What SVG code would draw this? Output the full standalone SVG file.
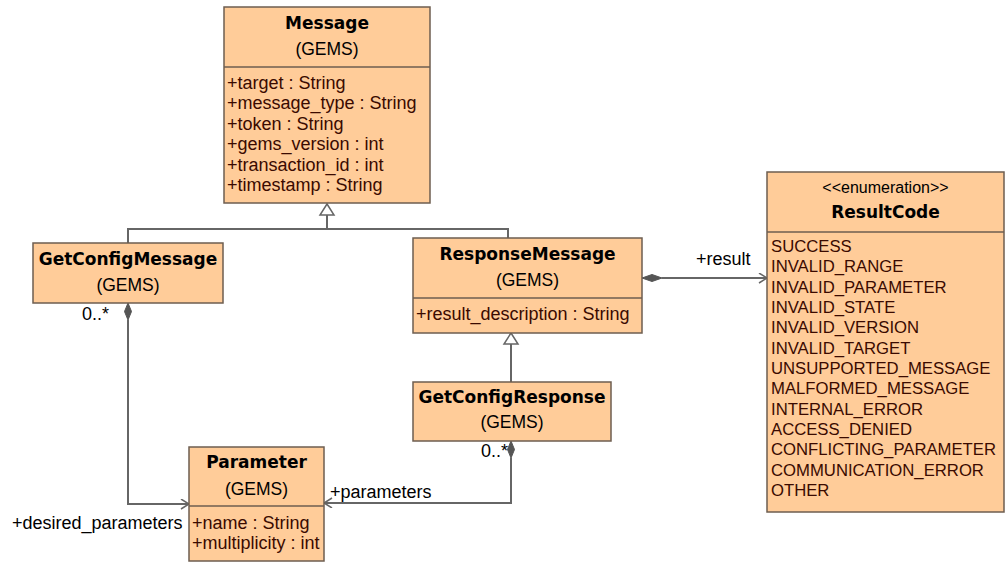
<svg xmlns="http://www.w3.org/2000/svg" width="1005" height="562" viewBox="0 0 1005 562">
<style>
.box{fill:#FFCC99;stroke:#6e5e50;stroke-width:1.5}
.div{stroke:#6e5e50;stroke-width:1.5}
.t{font-family:"DejaVu Sans",Verdana,sans-serif;font-weight:bold;font-size:17px;fill:#000;text-anchor:middle}
.g{font-family:"Liberation Sans",Arial,sans-serif;font-size:17.5px;fill:#000;text-anchor:middle}
.a{font-family:"Liberation Sans",Arial,sans-serif;font-size:18px;fill:#3a0a00}
.e{font-family:"Liberation Sans",Arial,sans-serif;font-size:16.7px;fill:#3a0a00}
.l{font-family:"Liberation Sans",Arial,sans-serif;font-size:18px;fill:#000}
.c{fill:none;stroke:#666;stroke-width:2}
.dia{fill:#555;stroke:#555;stroke-width:1}
.tri{fill:#fff;stroke:#666;stroke-width:1.5}
</style>
<defs>
<marker id="open" markerUnits="userSpaceOnUse" markerWidth="12" markerHeight="12" refX="9" refY="5" orient="auto">
<path d="M1,0 L9,5 L1,10" fill="none" stroke="#666" stroke-width="1.5"/>
</marker>
</defs>
<rect width="1005" height="562" fill="#fff"/>
<g id="connectors">
<path class="c" d="M128,243 V229 H508 V238"/>
<path class="c" d="M327,229 V215"/>
<polygon class="tri" points="327,204 320,215 334,215"/>
<path class="c" d="M511,382 V344"/>
<polygon class="tri" points="511,333 504,344 518,344"/>
<path class="c" d="M128,320 V504 H189" marker-end="url(#open)"/>
<polygon class="dia" points="128,303 131.5,311.5 128,320 124.5,311.5"/>
<path class="c" d="M662,278 H767" marker-end="url(#open)"/>
<polygon class="dia" points="642,278 652,274.5 662,278 652,281.5"/>
<path class="c" d="M511,458 V503 H324" marker-end="url(#open)"/>
<polygon class="dia" points="511,441 514.5,449.5 511,458 507.5,449.5"/>
<text class="l" x="82" y="320">0..*</text>
<text class="l" x="12" y="529">+desired_parameters</text>
<text class="l" x="481" y="457">0..*</text>
<text class="l" x="330" y="498">+parameters</text>
<text class="l" x="696" y="265">+result</text>
</g>
<g id="Message">
<rect class="box" x="224" y="7" width="206" height="196"/>
<line class="div" x1="224" y1="67" x2="430" y2="67"/>
<text class="t" x="327" y="29">Message</text>
<text class="g" x="327" y="55">(GEMS)</text>
<text class="a" x="227" y="88.5">+target : String</text>
<text class="a" x="227" y="109">+message_type : String</text>
<text class="a" x="227" y="129.5">+token : String</text>
<text class="a" x="227" y="150">+gems_version : int</text>
<text class="a" x="227" y="170.5">+transaction_id : int</text>
<text class="a" x="227" y="191">+timestamp : String</text>
</g>
<g id="GetConfigMessage">
<rect class="box" x="33" y="243" width="190" height="60"/>
<text class="t" x="128" y="265">GetConfigMessage</text>
<text class="g" x="128" y="291">(GEMS)</text>
</g>
<g id="ResponseMessage">
<rect class="box" x="413" y="238" width="229" height="95"/>
<line class="div" x1="413" y1="298" x2="642" y2="298"/>
<text class="t" x="527.5" y="260">ResponseMessage</text>
<text class="g" x="527.5" y="286">(GEMS)</text>
<text class="a" x="416" y="320">+result_description : String</text>
</g>
<g id="GetConfigResponse">
<rect class="box" x="413" y="382" width="198" height="59"/>
<text class="t" x="512" y="403">GetConfigResponse</text>
<text class="g" x="512" y="428">(GEMS)</text>
</g>
<g id="Parameter">
<rect class="box" x="189" y="447" width="135" height="114"/>
<line class="div" x1="189" y1="506" x2="324" y2="506"/>
<text class="t" x="256.5" y="468">Parameter</text>
<text class="g" x="256.5" y="495">(GEMS)</text>
<text class="a" x="192" y="529">+name : String</text>
<text class="a" x="192" y="549">+multiplicity : int</text>
</g>
<g id="ResultCode">
<rect class="box" x="767" y="172" width="237" height="340"/>
<line class="div" x1="767" y1="232" x2="1004" y2="232"/>
<text class="g" x="885.5" y="193" style="font-size:16px">&lt;&lt;enumeration&gt;&gt;</text>
<text class="t" x="885.5" y="218">ResultCode</text>
<text class="e" x="771" y="252">SUCCESS</text>
<text class="e" x="771" y="272.3">INVALID_RANGE</text>
<text class="e" x="771" y="292.7">INVALID_PARAMETER</text>
<text class="e" x="771" y="313">INVALID_STATE</text>
<text class="e" x="771" y="333.3">INVALID_VERSION</text>
<text class="e" x="771" y="353.7">INVALID_TARGET</text>
<text class="e" x="771" y="374">UNSUPPORTED_MESSAGE</text>
<text class="e" x="771" y="394.3">MALFORMED_MESSAGE</text>
<text class="e" x="771" y="414.7">INTERNAL_ERROR</text>
<text class="e" x="771" y="435">ACCESS_DENIED</text>
<text class="e" x="771" y="455.3">CONFLICTING_PARAMETER</text>
<text class="e" x="771" y="475.7">COMMUNICATION_ERROR</text>
<text class="e" x="771" y="496">OTHER</text>
</g>
</svg>
